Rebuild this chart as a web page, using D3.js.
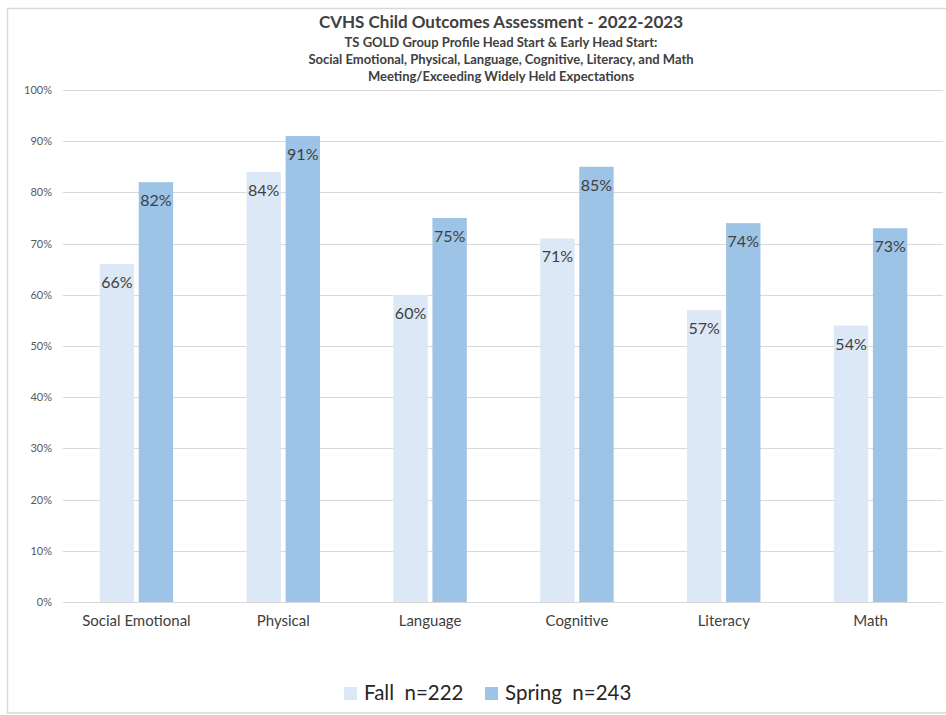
<!DOCTYPE html>
<html><head><meta charset="utf-8">
<script src="https://cdn.jsdelivr.net/npm/d3@7"></script>
<style>body{margin:0;background:#fff;}svg{display:block;font-family:Lato,"Open Sans",sans-serif;}</style>
</head><body>
<svg id="c" width="946" height="715"></svg>
<script>
const categories = ["Social Emotional","Physical","Language","Cognitive","Literacy","Math"];
const fallValues = [66,84,60,71,57,54];
const springValues = [82,91,75,85,74,73];
const seriesNames = ["Fall  n=222","Spring  n=243"];
const yTicks = [0,10,20,30,40,50,60,70,80,90,100];
const titleLines = ["CVHS Child Outcomes Assessment - 2022-2023",
  "TS GOLD Group Profile Head Start & Early Head Start:",
  "Social Emotional, Physical, Language, Cognitive, Literacy, and Math",
  "Meeting/Exceeding Widely Held Expectations"];
const colors = ["#dce8f5","#9dc3e6"];

const svg = d3.select("#c");
// frame
svg.append("rect").attr("x",7.5).attr("y",8.5).attr("width",945).attr("height",704.5)
  .attr("fill","none").attr("stroke","#d9d9d9").attr("stroke-width",1.5);

const x0 = d3.scaleBand().domain(categories).range([63,944]).paddingInner(0.5).paddingOuter(0.25);
const x1 = d3.scaleBand().domain([0,1]).range([0,x0.bandwidth()]).paddingInner(0.12);
const y = d3.scaleLinear().domain([0,100]).range([602,90]);

// titles
const tl = [{y:28,s:17},{y:47,s:13},{y:64,s:13},{y:81,s:13}];
titleLines.forEach((t,i)=>{
  svg.append("text").attr("x",501).attr("y",tl[i].y).attr("text-anchor","middle")
    .attr("font-size",tl[i].s).attr("font-weight","bold").attr("fill","#404040").text(t);
});

// gridlines
svg.append("g").selectAll("line").data(yTicks).join("line")
  .attr("x1",63).attr("x2",943).attr("y1",d=>Math.round(y(d))+0.5).attr("y2",d=>Math.round(y(d))+0.5)
  .attr("stroke","#d9d9d9").attr("stroke-width",1);

// y axis labels
const yAxis = d3.axisLeft(y).tickValues(yTicks).tickFormat(d=>d+"%").tickSize(0).tickPadding(0);
const ga = svg.append("g").attr("transform","translate(52,0)").call(yAxis);
ga.select(".domain").remove();
ga.selectAll("text").attr("font-size",11).attr("fill","#595959").attr("font-family","Lato,sans-serif");

// bars
const data = categories.map((c,i)=>({c, v:[fallValues[i],springValues[i]]}));
const g = svg.append("g");
const grp = g.selectAll("g").data(data).join("g").attr("transform",d=>`translate(${x0(d.c)},0)`);
grp.selectAll("rect").data(d=>d.v.map((v,k)=>({v,k}))).join("rect")
  .attr("x",d=>x1(d.k)).attr("width",x1.bandwidth())
  .attr("y",d=>y(d.v)).attr("height",d=>y(0)-y(d.v)).attr("fill",d=>colors[d.k]);
grp.selectAll("text").data(d=>d.v.map((v,k)=>({v,k}))).join("text")
  .attr("x",d=>x1(d.k)+x1.bandwidth()/2).attr("y",d=>y(d.v)+24)
  .attr("text-anchor","middle").attr("font-size",16).attr("fill","#404040").text(d=>d.v+"%");

// x axis labels
const xAxis = d3.axisBottom(x0).tickSize(0).tickPadding(0);
const gx = svg.append("g").attr("transform","translate(0,615)").call(xAxis);
gx.select(".domain").remove();
gx.selectAll("text").attr("font-size",15).attr("fill","#404040").attr("font-family","Lato,sans-serif");

// legend
const leg = [{x:344},{x:485}];
seriesNames.forEach((n,i)=>{
  svg.append("rect").attr("x",leg[i].x).attr("y",687).attr("width",13).attr("height",13).attr("fill",colors[i]);
  svg.append("text").attr("x",leg[i].x+20).attr("y",700).attr("font-size",20.5).attr("fill","#262626")
    .attr("xml:space","preserve").style("white-space","pre").text(n);
});
</script>
</body></html>
